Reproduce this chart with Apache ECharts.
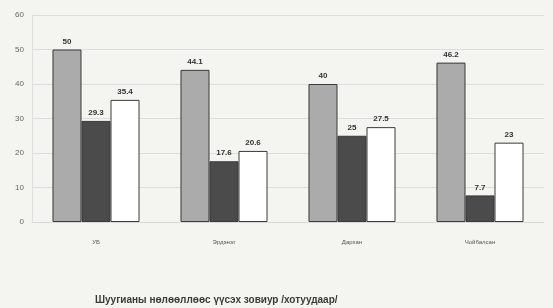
<!DOCTYPE html>
<html>
<head>
<meta charset="utf-8">
<script src="https://cdn.jsdelivr.net/npm/echarts@6/dist/echarts.min.js"></script>
<style>
  html, body { margin: 0; padding: 0; background: #f4f4f1; }
  #chart { width: 553px; height: 308px; }
</style>
</head>
<body>
<div id="chart"></div>
<script>
// data
var cities = ['УБ', 'Эрдэнэт', 'Дархан', 'Чойбалсан'];
var seriesA = [50, 44.1, 40, 46.2];
var seriesB = [29.3, 17.6, 25, 7.7];
var seriesC = [35.4, 20.6, 27.5, 23];
var titleText = 'Шуугианы нөлөөллөөс үүсэх зовиур /хотуудаар/';

var myChart = echarts.init(document.getElementById('chart'));

function barSeries(name, values, color) {
	return {
		name: name,
		type: 'bar',
		data: values,
		barGap: 0,
		barCategoryGap: '32%',
		itemStyle: { color: color, borderColor: '#3a3a3a', borderWidth: 1 },
		label: {
			show: true,
			position: 'top',
			distance: 4,
			color: '#333',
			fontSize: 8,
			fontWeight: 'bold',
			fontFamily: 'Arial, "Liberation Sans", sans-serif'
		}
	};
}

var option = {
	backgroundColor: '#f4f4f1',
	animation: false,
	title: {
		text: titleText,
		left: 90,
		top: 290,
		textStyle: { fontSize: 10, fontWeight: 'bold', color: '#3a3a3a', fontFamily: 'Arial, "Liberation Sans", sans-serif' }
	},
	grid: { left: 32, right: 9, top: 15, bottom: 86 },
	xAxis: {
		type: 'category',
		data: cities,
		axisLine: { show: true, lineStyle: { color: '#d8d8d8' } },
		axisTick: { show: false },
		axisLabel: { color: '#555', fontSize: 6, margin: 17 }
	},
	yAxis: {
		type: 'value',
		min: 0,
		max: 60,
		interval: 10,
		axisLine: { show: true, lineStyle: { color: '#e0e0e0' } },
		axisTick: { show: false },
		axisLabel: { color: '#666', fontSize: 8, margin: 8 },
		splitLine: { lineStyle: { color: '#dddddd' } }
	},
	series: [
		barSeries('A', seriesA, '#ababab'),
		barSeries('B', seriesB, '#4b4b4b'),
		barSeries('C', seriesC, '#ffffff')
	]
};

myChart.setOption(option);
</script>
</body>
</html>
